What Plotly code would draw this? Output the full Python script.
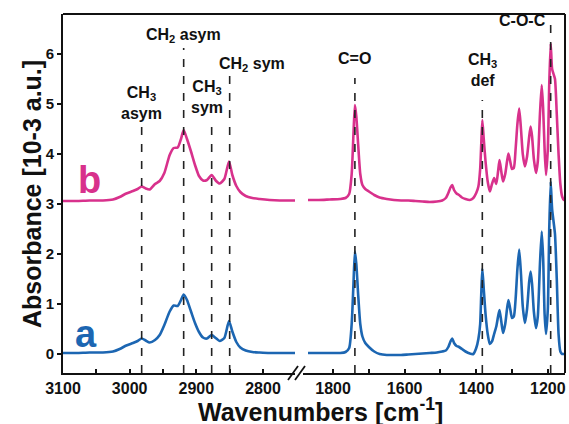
import plotly.graph_objects as go

# ---------------- data ----------------
wn_left = [3100, 3080, 3060, 3040, 3025, 3015, 3005, 2995, 2988, 2982, 2976, 2970,
           2962, 2955, 2948, 2940, 2934, 2928, 2923, 2919, 2914, 2908, 2902, 2896,
           2890, 2884, 2877, 2871, 2865, 2858, 2851, 2846, 2840, 2834, 2826, 2816,
           2805, 2790, 2775, 2760, 2752]
a_left = [0.02, 0.02, 0.03, 0.03, 0.05, 0.10, 0.17, 0.22, 0.26, 0.31, 0.27, 0.23,
          0.28, 0.38, 0.58, 0.85, 0.97, 0.96, 1.08, 1.19, 1.08, 0.85, 0.62, 0.44,
          0.33, 0.31, 0.38, 0.32, 0.26, 0.32, 0.66, 0.45, 0.24, 0.13, 0.07, 0.04,
          0.03, 0.02, 0.02, 0.02, 0.02]
b_left = [3.06, 3.06, 3.07, 3.07, 3.09, 3.14, 3.21, 3.26, 3.30, 3.35, 3.31, 3.29,
          3.40, 3.46, 3.62, 3.98, 4.12, 4.13, 4.30, 4.48, 4.30, 4.05, 3.78, 3.56,
          3.47, 3.48, 3.58, 3.47, 3.41, 3.50, 3.85, 3.58, 3.36, 3.24, 3.16, 3.12,
          3.10, 3.08, 3.07, 3.07, 3.07]

wn_right = [1870, 1840, 1810, 1780, 1765, 1755, 1748, 1743, 1739, 1735, 1730, 1724,
            1718, 1710, 1700, 1685, 1670, 1650, 1630, 1610, 1590, 1570, 1550, 1530,
            1510, 1495, 1485, 1478, 1472, 1467, 1462, 1455, 1448, 1440, 1430, 1418,
            1408, 1400, 1394, 1389, 1386, 1383, 1379, 1374, 1368, 1362, 1356, 1350,
            1344, 1339, 1335, 1330, 1325, 1319, 1314, 1310, 1305, 1300, 1295, 1290,
            1285, 1280, 1275, 1270, 1264, 1258, 1252, 1248, 1244, 1239, 1233, 1228,
            1222, 1217, 1213, 1209, 1205, 1200, 1196, 1192, 1188, 1184, 1180, 1175,
            1170, 1165, 1160, 1155, 1152]
a_right = [0.02, 0.02, 0.02, 0.02, 0.04, 0.12, 0.60, 1.40, 2.05, 1.80, 1.20, 0.60,
           0.35, 0.22, 0.14, 0.05, 0.00, -0.02, -0.02, -0.02, -0.01, 0.00, 0.01, 0.02,
           0.03, 0.05, 0.07, 0.14, 0.25, 0.31, 0.22, 0.16, 0.14, 0.10, 0.05, 0.01,
           0.00, 0.12, 0.30, 0.60, 1.20, 1.71, 1.30, 0.80, 0.40, 0.20, 0.25, 0.40,
           0.55, 0.75, 0.88, 0.65, 0.42, 0.60, 0.90, 1.08, 0.90, 0.72, 0.75, 1.10,
           1.70, 2.09, 1.60, 0.95, 0.62, 0.90, 1.45, 1.65, 1.40, 0.85, 0.52, 0.75,
           1.80, 2.45, 1.90, 0.80, 0.40, 0.90, 2.50, 3.45, 2.90, 2.65, 2.40, 1.50,
           0.40, 0.05, 0.00, 0.00, 0.00]
b_right = [3.08, 3.08, 3.09, 3.10, 3.12, 3.20, 3.60, 4.40, 4.98, 4.75, 4.20, 3.60,
           3.38, 3.30, 3.25, 3.18, 3.13, 3.10, 3.08, 3.07, 3.07, 3.06, 3.05, 3.04,
           3.05, 3.07, 3.12, 3.22, 3.33, 3.38, 3.28, 3.21, 3.18, 3.13, 3.10, 3.08,
           3.12, 3.22, 3.35, 3.70, 4.20, 4.68, 4.30, 3.85, 3.45, 3.25, 3.40, 3.52,
           3.40, 3.65, 3.88, 3.65, 3.45, 3.60, 3.85, 4.01, 3.85, 3.70, 3.72, 4.10,
           4.60, 4.91, 4.50, 4.00, 3.75, 3.95, 4.35, 4.55, 4.35, 3.90, 3.62, 3.85,
           4.80, 5.38, 4.90, 4.10, 3.58, 4.10, 5.40, 6.21, 5.70, 5.60, 5.50, 4.80,
           4.00, 3.40, 3.15, 3.08, 3.08]

# band assignments (position in cm-1, label, panel)
band_pos = [2982, 2919, 2877, 2850, 1739, 1383, 1192]
band_labels = ["CH<sub>3</sub><br>asym", "CH<sub>2</sub> asym", "CH<sub>3</sub><br>sym",
               "CH<sub>2</sub> sym", "C=O", "CH<sub>3</sub><br>def", "C-O-C"]
band_axis = ["x", "x", "x", "x", "x2", "x2", "x2"]

x_ticks_left = [3100, 3000, 2900, 2800]
x_ticks_right = [1800, 1600, 1400, 1200]
y_ticks = [0, 1, 2, 3, 4, 5, 6]

# ---------------- style ----------------
BLUE = "#1c66b2"
PINK = "#d8318c"
FONT = "Liberation Sans, Arial, Helvetica, sans-serif"
W, H = 569, 424
ML, MR, MT, MB = 63, 4, 14, 51
PW, PH = W - ML - MR, H - MT - MB

def px2paper_x(px):
    return (px - ML) / PW

def px2paper_y(py):
    return (H - MB - py) / PH

# styling per band: line top (data y), label y (data y), label x shift (px)
line_top = [4.58, 6.12, 4.58, 5.56, 5.52, 5.08, 6.68]
label_y = [5.02, 6.38, 5.14, 5.80, 5.92, 5.68, 6.68]
label_shift = [0, 0, -5, 22, 0, 0, -28]

fig = go.Figure()
lw = 2.6
fig.add_trace(go.Scatter(x=wn_left, y=b_left, mode="lines", xaxis="x", yaxis="y",
                         line=dict(color=PINK, width=lw, shape="spline", smoothing=0.6),
                         showlegend=False))
fig.add_trace(go.Scatter(x=wn_left, y=a_left, mode="lines", xaxis="x", yaxis="y",
                         line=dict(color=BLUE, width=lw, shape="spline", smoothing=0.6),
                         showlegend=False))
fig.add_trace(go.Scatter(x=wn_right, y=b_right, mode="lines", xaxis="x2", yaxis="y",
                         line=dict(color=PINK, width=lw, shape="spline", smoothing=0.6),
                         showlegend=False))
fig.add_trace(go.Scatter(x=wn_right, y=a_right, mode="lines", xaxis="x2", yaxis="y",
                         line=dict(color=BLUE, width=lw, shape="spline", smoothing=0.6),
                         showlegend=False))

shapes = []
annotations = []
for pos, lab, ax, top, ly, sh in zip(band_pos, band_labels, band_axis, line_top, label_y, label_shift):
    shapes.append(dict(type="line", xref=ax, yref="y", x0=pos, x1=pos, y0=-0.38, y1=top,
                       line=dict(color="#222", width=1.6, dash="8px,9px"), layer="above"))
    annotations.append(dict(xref=ax, yref="y", x=pos, y=ly, text=lab, showarrow=False,
                            xshift=sh, xanchor="center", yanchor="middle",
                            font=dict(family=FONT, size=16, color="#111", weight="bold")))

# frame: top and right borders
shapes.append(dict(type="line", xref="paper", yref="paper", x0=0, x1=1, y0=1, y1=1,
                   line=dict(color="#111", width=2)))
shapes.append(dict(type="line", xref="paper", yref="paper", x0=1, x1=1, y0=0, y1=1,
                   line=dict(color="#111", width=2)))
# axis break marks
for sx in (288, 295):
    shapes.append(dict(type="line", xref="paper", yref="paper",
                       x0=px2paper_x(sx), x1=px2paper_x(sx + 10),
                       y0=px2paper_y(380), y1=px2paper_y(366),
                       line=dict(color="#111", width=1.8)))

# series labels
annotations.append(dict(xref="paper", yref="paper", x=px2paper_x(86), y=px2paper_y(334),
                        text="a", showarrow=False, xanchor="center", yanchor="middle",
                        font=dict(family=FONT, size=38, color=BLUE, weight="bold")))
annotations.append(dict(xref="paper", yref="paper", x=px2paper_x(89), y=px2paper_y(180),
                        text="b", showarrow=False, xanchor="center", yanchor="middle",
                        font=dict(family=FONT, size=38, color=PINK, weight="bold")))
# axis titles
annotations.append(dict(xref="paper", yref="paper", x=px2paper_x(320), y=px2paper_y(410),
                        text="Wavenumbers [cm<sup>-1</sup>]", showarrow=False,
                        xanchor="center", yanchor="middle",
                        font=dict(family=FONT, size=25, color="#111", weight="bold")))
annotations.append(dict(xref="paper", yref="paper", x=px2paper_x(32), y=px2paper_y(194),
                        text="Absorbance [10-3 a.u.]", showarrow=False, textangle=-90,
                        xanchor="center", yanchor="middle",
                        font=dict(family=FONT, size=25, color="#111", weight="bold")))

tickfont = dict(family=FONT, size=16, color="#111", weight="bold")
fig.update_layout(
    width=W, height=H,
    margin=dict(l=ML, r=MR, t=MT, b=MB, pad=0),
    paper_bgcolor="white", plot_bgcolor="white",
    xaxis=dict(domain=[0, px2paper_x(295)], range=[3100, 2752], anchor="y",
               tickmode="array", tickvals=x_ticks_left, ticks="inside", ticklen=4,
               tickwidth=1.5, tickcolor="#111",
               minor=dict(dtick=50, tick0=3100, ticks="inside", ticklen=4, tickwidth=1.5, tickcolor="#111"),
               showline=True, linecolor="#111", linewidth=2, showgrid=False, zeroline=False,
               tickfont=tickfont),
    xaxis2=dict(domain=[px2paper_x(303), 1], range=[1884, 1152], anchor="y",
                tickmode="array", tickvals=x_ticks_right, ticks="inside", ticklen=4,
                tickwidth=1.5, tickcolor="#111",
                minor=dict(dtick=100, tick0=1200, ticks="inside", ticklen=4, tickwidth=1.5, tickcolor="#111"),
                showline=True, linecolor="#111", linewidth=2, showgrid=False, zeroline=False,
                tickfont=tickfont),
    yaxis=dict(range=[-0.38, 6.8], anchor="x", tickmode="array", tickvals=y_ticks,
               ticks="outside", ticklen=4, tickwidth=1.5, tickcolor="#111",
               showline=True, linecolor="#111", linewidth=2, showgrid=False, zeroline=False,
               tickfont=dict(family=FONT, size=15, color="#111", weight="bold")),
    shapes=shapes,
    annotations=annotations,
)

fig.write_html("out.html")
